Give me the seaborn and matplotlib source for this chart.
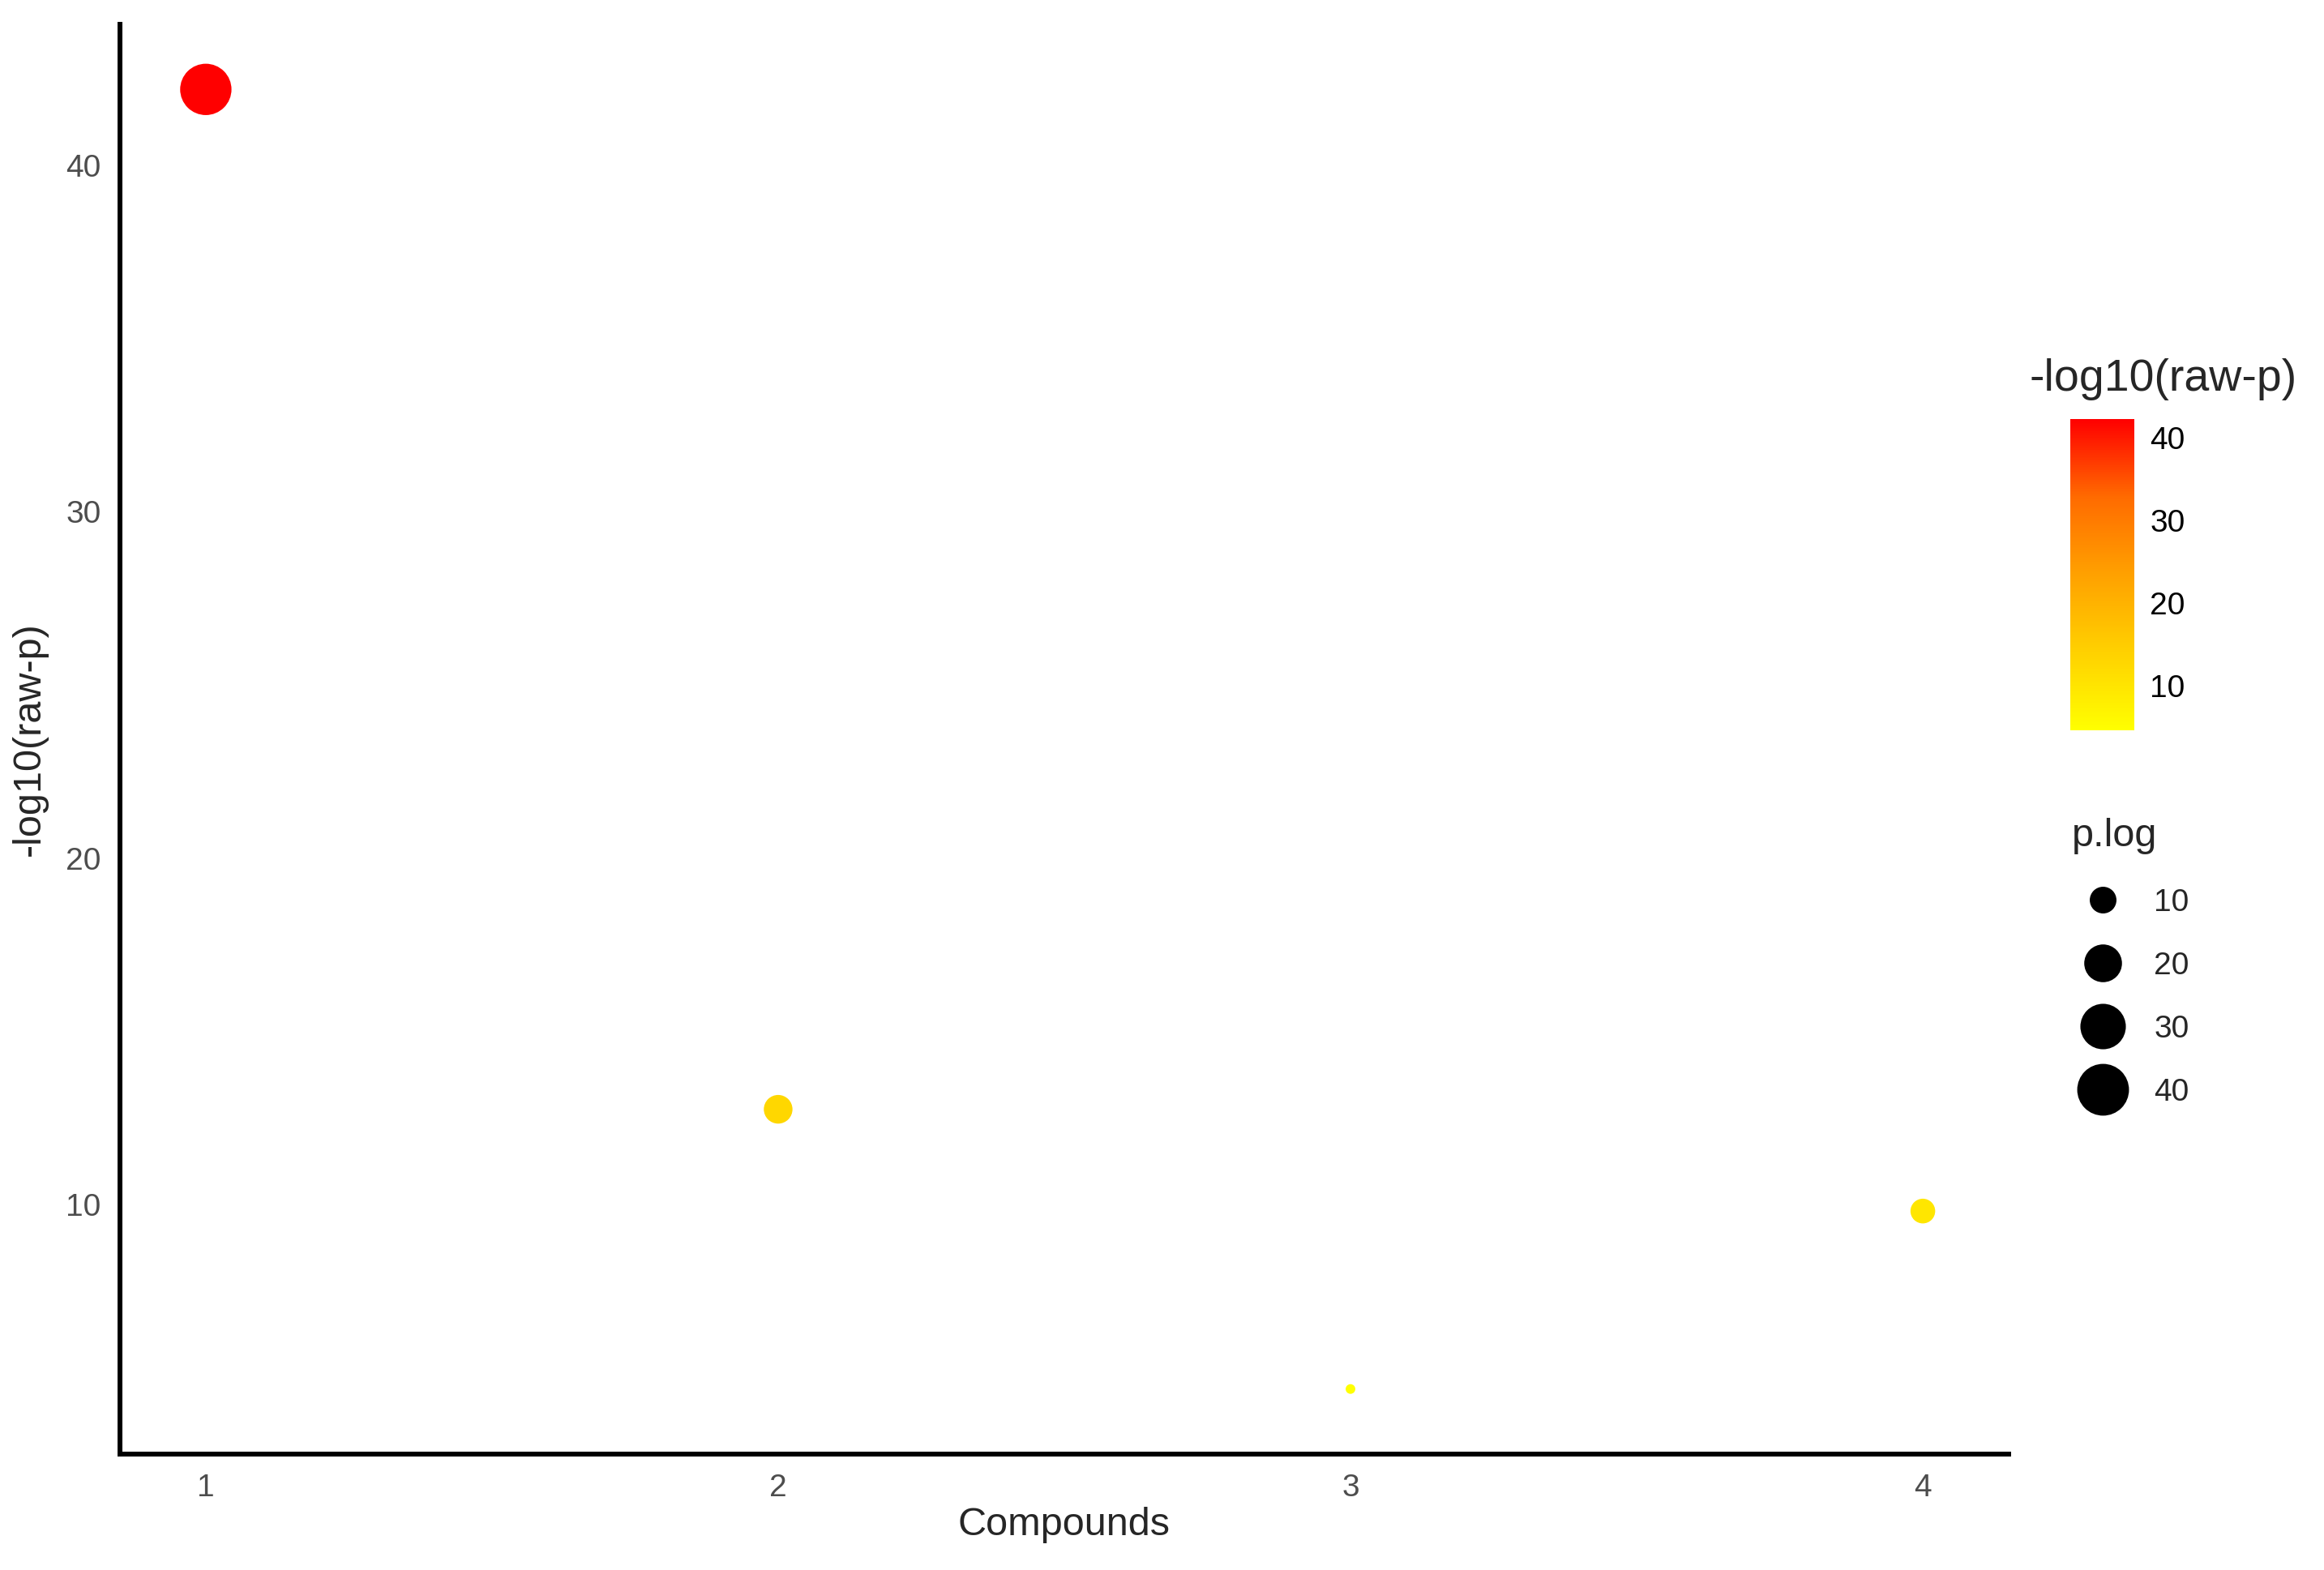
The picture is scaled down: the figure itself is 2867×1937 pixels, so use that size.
import numpy as np
import pandas as pd
import matplotlib
matplotlib.use("Agg")
import matplotlib.pyplot as plt
from matplotlib.colors import LinearSegmentedColormap, Normalize, FuncNorm
from matplotlib.cm import ScalarMappable
from matplotlib.lines import Line2D
import seaborn as sns

# data
compounds = [1, 2, 3, 4]
p_log = [42.2, 12.74, 4.66, 9.8]
cbar_ticks = [10, 20, 30, 40]
size_breaks = [10, 20, 30, 40]

df = pd.DataFrame({"Compounds": compounds, "p.log": p_log})

sns.set_theme(style="white")
plt.rcParams["font.family"] = ["Liberation Sans", "DejaVu Sans"]

W, H = 2867, 1937
fig = plt.figure(figsize=(W / 100, H / 100), dpi=100)
ax = fig.add_axes([148 / W, 1 - 1794 / H, (2478 - 148) / W, (1794 - 30) / H])

# yellow -> red gradient (Lab-like interpolation as in ggplot)
cmap = LinearSegmentedColormap.from_list(
    "yr", ["#FFFF00", "#FFD100", "#FFA100", "#FF6B00", "#FF0000"])
pmin, pmax = min(p_log), max(p_log)

# ggplot-style area scale: diameter = 1 + 5*sqrt(t)
def area_fwd(v):
    t = np.clip((np.asarray(v, float) - pmin) / (pmax - pmin), 0, None)
    return (1 + 5 * np.sqrt(t)) ** 2

def area_inv(a):
    return pmin + ((np.sqrt(a) - 1) / 5) ** 2 * (pmax - pmin)

size_norm = FuncNorm((area_fwd, area_inv), vmin=pmin, vmax=pmax)
unit = 7.6  # points per ggplot size unit
smin, smax = (unit + 1) ** 2, (6 * unit) ** 2

sns.scatterplot(
    data=df, x="Compounds", y="p.log", hue="p.log", size="p.log",
    palette=cmap, hue_norm=(pmin, pmax), sizes=(smin, smax),
    size_norm=size_norm, linewidth=0, legend=False, ax=ax,
)

ax.set_xlim(0.85, 4.15)
ax.set_ylim(2.78, 44.08)
ax.set_xticks(compounds)
ax.set_yticks([10, 20, 30, 40])
ax.tick_params(length=0, labelsize=28, labelcolor="#4D4D4D", pad=17)
ax.set_xlabel("Compounds", fontsize=35, labelpad=4)
ax.set_ylabel("-log10(raw-p)", fontsize=35, labelpad=16)
sns.despine(ax=ax)
for s in ["left", "bottom"]:
    ax.spines[s].set_color("black")
    ax.spines[s].set_linewidth(4.3)
ax.grid(False)

# colour bar
cax = fig.add_axes([2554 / W, 1 - 901 / H, 79 / W, 384 / H])
cb = fig.colorbar(ScalarMappable(norm=Normalize(pmin, pmax), cmap=cmap), cax=cax)
cb.outline.set_visible(False)
cb.set_ticks(cbar_ticks)
cax.yaxis.set_ticks_position("both")
cax.tick_params(axis="y", direction="in", color="white", length=11, width=1.5,
                labelsize=28, labelcolor="black", labelleft=False,
                labelright=True, pad=14)
fig.text(2503 / W, 1 - 468 / H, "-log10(raw-p)", fontsize=40,
         ha="left", va="center")

# size legend
handles = [Line2D([], [], ls="", marker="o", color="black", markeredgewidth=0,
                  markersize=np.sqrt(smin + size_norm(v) * (smax - smin)) + 1.5)
           for v in size_breaks]
leg = fig.legend(handles, [str(v) for v in size_breaks], title="p.log",
                 loc="upper left", bbox_to_anchor=(2540 / W, 1 - 993 / H),
                 frameon=False, fontsize=28, title_fontsize=35,
                 labelspacing=1.08, handletextpad=0.62, borderaxespad=0,
                 alignment="left")

fig.savefig("out.png", dpi=100, facecolor="white")
